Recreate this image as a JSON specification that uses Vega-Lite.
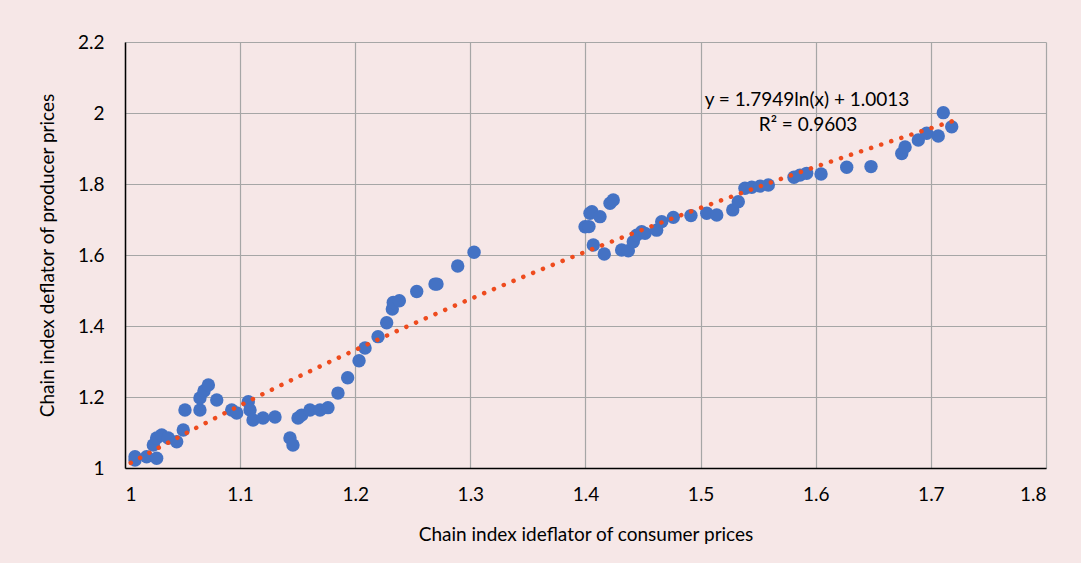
{
  "$schema": "https://vega.github.io/schema/vega-lite/v6.json",
  "autosize": "none",
  "width": 921,
  "height": 426,
  "padding": {"left": 125, "top": 42, "right": 35, "bottom": 95},
  "background": "#F6E7E7",
  "config": {
    "view": {"stroke": null},
    "font": "Lato",
    "axis": {
      "labelFont": "Lato", "titleFont": "Lato", "labelFontSize": 19, "titleFontSize": 19,
      "labelColor": "#000000", "titleColor": "#000000", "titleFontWeight": "normal",
      "gridColor": "#A6A6A6", "gridWidth": 1.2, "domainColor": "#000000", "domainWidth": 1.5,
      "ticks": false
    }
  },
  "datasets": {
    "pts": [
      {"x": 1.0087, "y": 1.0318}, {"x": 1.0087, "y": 1.0225}, {"x": 1.0188, "y": 1.0318}, {"x": 1.0275, "y": 1.0273},
      {"x": 1.0246, "y": 1.0648}, {"x": 1.0275, "y": 1.0845}, {"x": 1.0319, "y": 1.093}, {"x": 1.0376, "y": 1.0845},
      {"x": 1.0449, "y": 1.0741}, {"x": 1.0506, "y": 1.107}, {"x": 1.0521, "y": 1.1634}, {"x": 1.0651, "y": 1.1634},
      {"x": 1.0651, "y": 1.197}, {"x": 1.0686, "y": 1.2169}, {"x": 1.0724, "y": 1.2338}, {"x": 1.0797, "y": 1.1915},
      {"x": 1.0927, "y": 1.1634}, {"x": 1.097, "y": 1.155}, {"x": 1.1071, "y": 1.1868}, {"x": 1.1086, "y": 1.1634},
      {"x": 1.1112, "y": 1.135}, {"x": 1.1199, "y": 1.141}, {"x": 1.1303, "y": 1.1437}, {"x": 1.1433, "y": 1.0845},
      {"x": 1.1459, "y": 1.0648}, {"x": 1.1503, "y": 1.141}, {"x": 1.1535, "y": 1.149}, {"x": 1.1607, "y": 1.1634},
      {"x": 1.1694, "y": 1.1634}, {"x": 1.1763, "y": 1.17}, {"x": 1.185, "y": 1.211}, {"x": 1.1934, "y": 1.2544},
      {"x": 1.2033, "y": 1.3023}, {"x": 1.2085, "y": 1.338}, {"x": 1.2198, "y": 1.37}, {"x": 1.2273, "y": 1.409},
      {"x": 1.2322, "y": 1.448}, {"x": 1.233, "y": 1.466}, {"x": 1.2383, "y": 1.471}, {"x": 1.2534, "y": 1.497},
      {"x": 1.2693, "y": 1.518}, {"x": 1.271, "y": 1.518}, {"x": 1.289, "y": 1.569}, {"x": 1.3032, "y": 1.6076},
      {"x": 1.3996, "y": 1.6797}, {"x": 1.403, "y": 1.68}, {"x": 1.4039, "y": 1.7175}, {"x": 1.4056, "y": 1.722},
      {"x": 1.4126, "y": 1.708}, {"x": 1.4213, "y": 1.7456}, {"x": 1.4241, "y": 1.755}, {"x": 1.4068, "y": 1.628},
      {"x": 1.4163, "y": 1.603}, {"x": 1.4314, "y": 1.614}, {"x": 1.4372, "y": 1.612}, {"x": 1.4415, "y": 1.6375},
      {"x": 1.4445, "y": 1.656}, {"x": 1.4488, "y": 1.6656}, {"x": 1.4517, "y": 1.661}, {"x": 1.4618, "y": 1.67},
      {"x": 1.4662, "y": 1.694}, {"x": 1.4763, "y": 1.706}, {"x": 1.4916, "y": 1.711}, {"x": 1.5053, "y": 1.7175},
      {"x": 1.514, "y": 1.7127}, {"x": 1.5279, "y": 1.727}, {"x": 1.5327, "y": 1.75}, {"x": 1.5385, "y": 1.788},
      {"x": 1.5444, "y": 1.791}, {"x": 1.5516, "y": 1.794}, {"x": 1.5588, "y": 1.797}, {"x": 1.5811, "y": 1.819},
      {"x": 1.5863, "y": 1.825}, {"x": 1.5921, "y": 1.83}, {"x": 1.6046, "y": 1.828}, {"x": 1.6269, "y": 1.847},
      {"x": 1.648, "y": 1.849}, {"x": 1.6747, "y": 1.886}, {"x": 1.6776, "y": 1.904}, {"x": 1.6891, "y": 1.924},
      {"x": 1.6964, "y": 1.943}, {"x": 1.7064, "y": 1.935}, {"x": 1.7108, "y": 2.001}, {"x": 1.7181, "y": 1.961}
    ],
    "labels": [
      {"x": 1.5924, "y": 2.0366, "t": "y = 1.7949ln(x) + 1.0013"},
      {"x": 1.5933, "y": 1.966, "t": "R² = 0.9603"}
    ]
  },
  "layer": [
    {
      "data": {"name": "pts"},
      "mark": {"type": "circle", "size": 180, "opacity": 1, "color": "#4472C4"},
      "encoding": {
        "x": {"field": "x", "type": "quantitative", "scale": {"domain": [1, 1.8], "nice": false},
          "axis": {"values": [1, 1.1, 1.2, 1.3, 1.4, 1.5, 1.6, 1.7, 1.8], "format": ".1~f", "labelPadding": 17, "title": "Chain index ideflator of consumer prices", "titlePadding": 21}},
        "y": {"field": "y", "type": "quantitative", "scale": {"domain": [1, 2.2], "nice": false, "zero": false},
          "axis": {"values": [1, 1.2, 1.4, 1.6, 1.8, 2, 2.2], "format": ".1~f", "labelPadding": 21, "title": "Chain index deflator of producer prices", "titlePadding": 20}}
      }
    },
    {
      "data": {"name": "pts"},
      "transform": [{"regression": "y", "on": "x", "method": "log", "extent": [1.005, 1.72]}],
      "mark": {"type": "line", "color": "#EE4B1E", "strokeWidth": 4.5, "strokeDash": [0.1, 10.5], "strokeCap": "round"},
      "encoding": {
        "x": {"field": "x", "type": "quantitative"},
        "y": {"field": "y", "type": "quantitative"}
      }
    },
    {
      "data": {"name": "labels"},
      "mark": {"type": "text", "fontSize": 19, "font": "Lato", "color": "#000000", "align": "center", "baseline": "middle"},
      "encoding": {
        "x": {"field": "x", "type": "quantitative"},
        "y": {"field": "y", "type": "quantitative"},
        "text": {"field": "t"}
      }
    }
  ]
}
